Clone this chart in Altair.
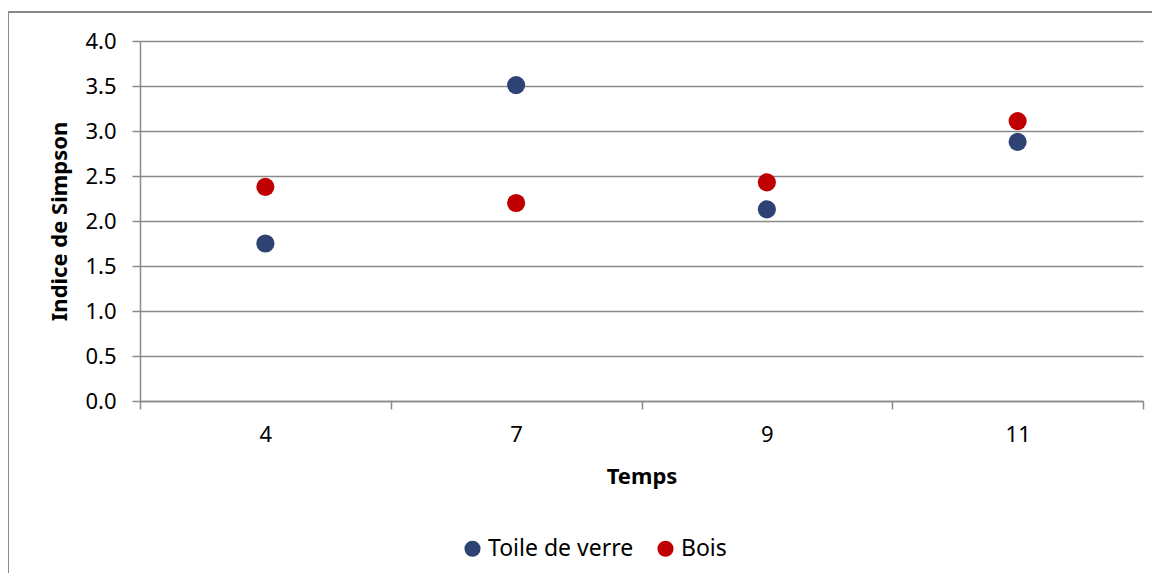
import altair as alt
import pandas as pd

temps = ["4", "7", "9", "11"]
toile_de_verre = [1.75, 3.51, 2.13, 2.88]
bois = [2.38, 2.20, 2.43, 3.11]
series_names = ["Toile de verre", "Bois"]
series_colors = ["#2E4374", "#C00000"]

rows = []
for t, v in zip(temps, toile_de_verre):
    rows.append({"Temps": t, "Série": series_names[0], "Valeur": v})
for t, v in zip(temps, bois):
    rows.append({"Temps": t, "Série": series_names[1], "Valeur": v})
df = pd.DataFrame(rows)

FONT = "Noto Sans"
GRID = "#8a8a8a"
W, H = 1003, 360

points = alt.Chart(df).mark_circle(size=330, opacity=1).encode(
    x=alt.X("Temps:N", sort=temps,
            scale=alt.Scale(paddingInner=0, paddingOuter=0),
            axis=alt.Axis(title="Temps", tickBand="extent", labelAngle=0,
                          grid=False, domainColor=GRID, tickColor=GRID,
                          domainWidth=1.5, tickWidth=1.5, tickSize=8,
                          labelPadding=15, titlePadding=21,
                          labelFontSize=22, titleFontSize=22,
                          labelFont=FONT, titleFont=FONT, titleFontWeight="bold",
                          labelColor="#000000", titleColor="#000000")),
    y=alt.Y("Valeur:Q",
            scale=alt.Scale(domain=[0, 4], nice=False, zero=True),
            axis=alt.Axis(title="Indice de Simpson", values=[0, 0.5, 1, 1.5, 2, 2.5, 3, 3.5, 4],
                          format=".1f", grid=True, gridColor=GRID, gridWidth=1.5,
                          domainColor=GRID, tickColor=GRID, domainWidth=1.5,
                          tickWidth=1.5, tickSize=8, labelPadding=16,
                          titlePadding=13,
                          labelFontSize=22, titleFontSize=22,
                          labelFont=FONT, titleFont=FONT, titleFontWeight="bold",
                          labelColor="#000000", titleColor="#000000")),
    color=alt.Color("Série:N", sort=series_names,
                    scale=alt.Scale(domain=series_names, range=series_colors),
                    legend=alt.Legend(title=None, orient="none", direction="horizontal",
                                      legendX=321, legendY=496,
                                      symbolType="circle", symbolSize=260,
                                      symbolStrokeWidth=0,
                                      labelFontSize=23, labelFont=FONT,
                                      labelColor="#000000", columnPadding=20,
                                      labelOffset=4)),
)

border_top = alt.Chart(df).mark_rule(color="#8a8a8a", strokeWidth=2).encode(
    x=alt.value(-132), x2=alt.value(1030), y=alt.value(-29)
)
border_left = alt.Chart(df).mark_rule(color="#8a8a8a", strokeWidth=2).encode(
    x=alt.value(-132), y=alt.value(-29), y2=alt.value(560)
)

chart = alt.layer(border_top, border_left, points).properties(
    width=W, height=H,
    autosize=alt.AutoSizeParams(type="none"),
    padding={"left": 132, "top": 33, "right": 9, "bottom": 172},
    background="#ffffff",
).configure_view(stroke=None)

chart.save("out.html", embed_options={"renderer": "svg", "actions": False})
